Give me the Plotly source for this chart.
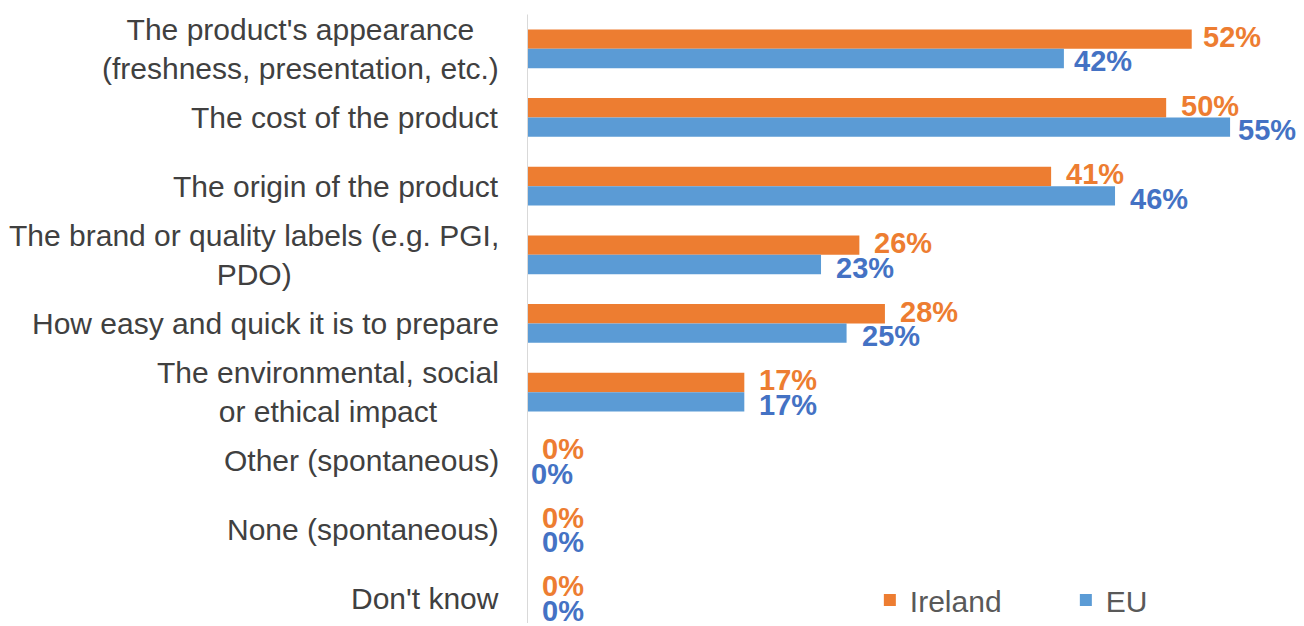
import plotly.graph_objects as go

categories = [
    "The product's appearance<br>(freshness, presentation, etc.)",
    "The cost of the product",
    "The origin of the product",
    "The brand or quality labels (e.g. PGI,<br>PDO)",
    "How easy and quick it is to prepare",
    "The environmental, social<br>or ethical impact",
    "Other (spontaneous)",
    "None (spontaneous)",
    "Don't know",
]
ireland = [52, 50, 41, 26, 28, 17, 0, 0, 0]
eu = [42, 55, 46, 23, 25, 17, 0, 0, 0]

# label gap (px) after the bar end, per category (style only)
ireland_gap = [9, 13, 13, 13, 13, 13, 13, 13, 13]
eu_gap = [8, 6, 13, 13, 13, 13, 2, 13, 13]

ORANGE = "#ED7D31"
BLUE = "#5B9BD5"
BLUE_TXT = "#4472C4"
FONT = "Liberation Sans, Arial, sans-serif"
FS_LBL = 29
FS_CAT = 30

idx = list(range(len(categories)))

fig = go.Figure()
fig.add_trace(go.Bar(y=idx, x=ireland, orientation="h", name="Ireland",
                     marker=dict(color=ORANGE, line=dict(width=0))))
fig.add_trace(go.Bar(y=idx, x=eu, orientation="h", name="EU",
                     marker=dict(color=BLUE, line=dict(width=0))))

bargap = 0.435
half = (1 - bargap) / 4  # offset of each bar center from category center

annotations = []
for i, v in enumerate(ireland):
    annotations.append(dict(x=v, y=i - half, xref="x", yref="y", text=f"<b>{v}%</b>",
                            showarrow=False, xanchor="left", yanchor="middle",
                            xshift=ireland_gap[i], yshift=2,
                            font=dict(family=FONT, size=FS_LBL, color=ORANGE)))
for i, v in enumerate(eu):
    annotations.append(dict(x=v, y=i + half, xref="x", yref="y", text=f"<b>{v}%</b>",
                            showarrow=False, xanchor="left", yanchor="middle",
                            xshift=eu_gap[i], yshift=-3,
                            font=dict(family=FONT, size=FS_LBL, color=BLUE_TXT)))
for i, c in enumerate(categories):
    annotations.append(dict(x=0, y=i, xref="x", yref="y", text=c, showarrow=False,
                            xanchor="right", yanchor="middle", align="center",
                            xshift=-26,
                            font=dict(family=FONT, size=FS_CAT, color="#404040")))

fig.update_layout(
    width=1296, height=618,
    margin=dict(l=519, r=10, t=0, b=0),
    paper_bgcolor="white", plot_bgcolor="white",
    barmode="group", bargap=bargap, bargroupgap=0,
    font=dict(family=FONT, size=FS_CAT, color="#595959"),
    xaxis=dict(range=[0, 60], visible=False, fixedrange=True),
    yaxis=dict(range=[8.362, -0.594], showticklabels=False, showgrid=False,
               zeroline=False, showline=False, ticks=""),
    showlegend=True,
    legend=dict(orientation="h", x=0.447, y=0.037, xanchor="left", yanchor="middle",
                entrywidth=151, entrywidthmode="pixels",
                font=dict(family=FONT, size=FS_CAT, color="#595959"),
                bgcolor="rgba(0,0,0,0)", traceorder="normal"),
    annotations=annotations,
    shapes=[dict(type="line", xref="x", yref="y", x0=0, x1=0, y0=-0.5, y1=8.7,
                 line=dict(color="#D9D9D9", width=2))],
)

fig.write_html("out.html")
